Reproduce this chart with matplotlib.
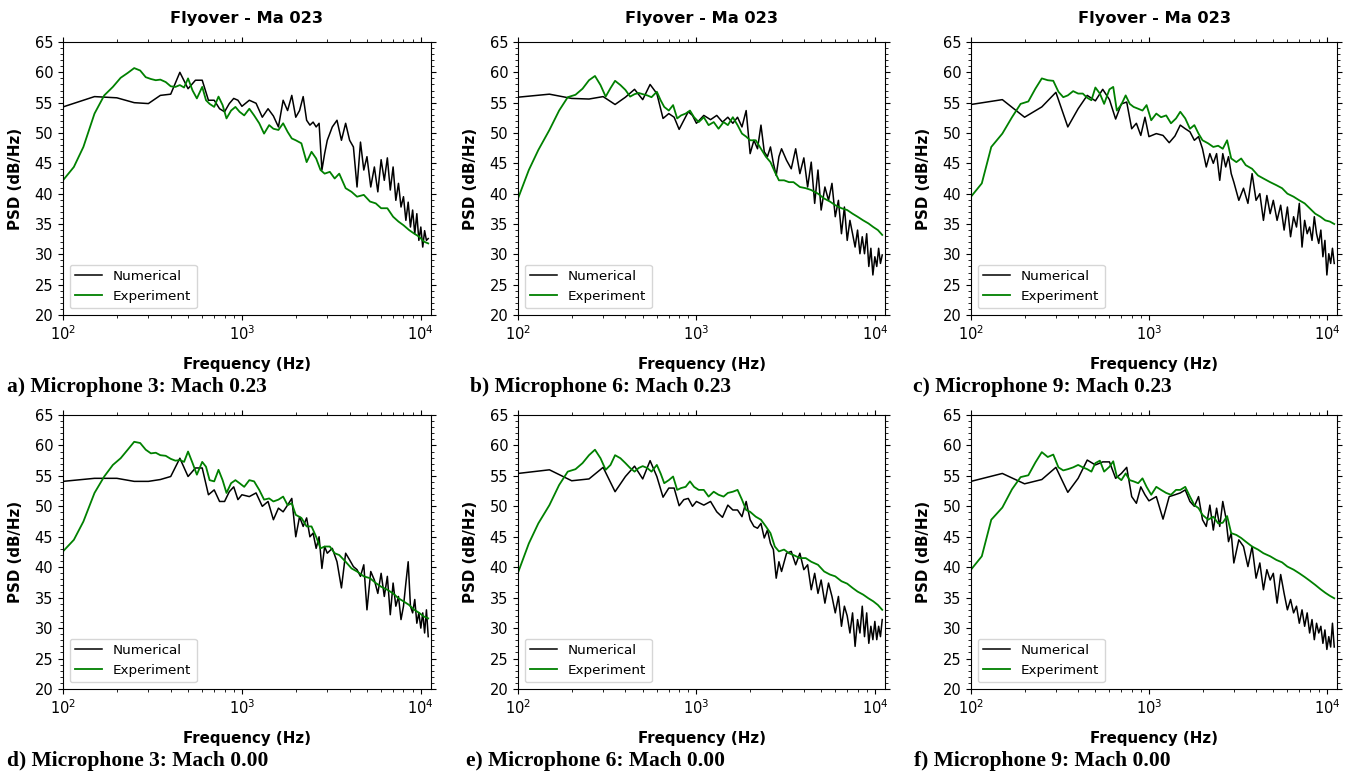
import numpy as np
import matplotlib.pyplot as plt
from matplotlib.ticker import MultipleLocator, LogLocator

plt.rcParams['font.family'] = 'DejaVu Sans'

# frequency grids (Hz)
freq_num = [100, 150, 200, 250, 300, 350, 400, 450, 500, 550, 600, 650, 700, 750, 800, 850, 900, 950, 1000,
            1100, 1200, 1300, 1400, 1500, 1600, 1700, 1800, 1900, 2000,
            2100, 2200, 2300, 2400, 2500, 2600, 2700, 2800, 2900, 3000,
            3200, 3400, 3600, 3800, 4000, 4200, 4400, 4600, 4800, 5000,
            5250, 5500, 5750, 6000, 6250, 6500, 6750, 7000, 7250, 7500,
            7750, 8000, 8250, 8500, 8750, 9000, 9250, 9500, 9750, 10000,
            10250, 10500, 10750, 11000]
freq_exp = [100, 115, 130, 150, 170, 190, 210, 230, 250, 270, 290,
            310, 330, 350, 375, 400, 425, 450, 475, 500,
            530, 560, 600, 630, 660, 700, 740, 780, 820, 870, 920, 970,
            1030, 1100, 1170, 1250, 1330, 1420, 1500, 1600, 1700, 1800, 1900, 2000,
            2150, 2300, 2450, 2600, 2750, 2900,
            3100, 3300, 3500, 3800, 4100, 4400, 4800,
            5200, 5600, 6000, 6500, 7000, 7500, 8000, 8600, 9200, 9800, 10400, 11000]

# numerical PSD (dB/Hz)
num_a = [54.3, 56.0, 55.8, 55.0, 54.85, 56.2, 56.4, 60.0, 57.3, 58.7, 58.7, 55.4, 55.4, 54.0, 53.5, 54.85, 55.7, 55.4, 54.4,
         55.4, 54.9, 52.6, 54.0, 52.8, 51.0, 55.4, 53.7, 56.2, 52.6,
         53.7, 56.0, 52.1, 51.3, 51.8, 51.0, 51.6, 43.9, 46.6, 48.8,
         51.0, 52.1, 48.8, 51.6, 48.8, 47.7, 41.1, 48.5, 43.9, 46.1,
         41.1, 44.4, 40.3, 45.6, 42.2, 45.9, 40.6, 44.4, 38.9, 41.7,
         37.8, 39.5, 35.6, 38.6, 34.5, 37.3, 33.4, 36.7, 32.3, 34.5,
         31.2, 33.9, 32.3, 32.6]
num_b = [55.9, 56.4, 55.7, 55.6, 56.0, 54.7, 55.9, 57.2, 55.5, 58.0, 56.5, 52.4, 53.2, 52.6, 50.6, 52.1, 53.5, 52.9, 51.6,
         52.9, 52.2, 52.9, 51.8, 52.6, 51.6, 52.6, 51.0, 53.7, 46.6,
         48.8, 47.4, 51.3, 46.9, 46.1, 47.7, 45.0, 43.0, 46.1, 47.4,
         45.5, 44.1, 47.4, 43.3, 45.9, 41.1, 45.2, 38.4, 43.9, 37.3,
         41.1, 38.9, 41.7, 36.2, 38.9, 33.4, 37.8, 32.3, 35.6, 33.4,
         31.2, 34.0, 30.1, 32.9, 30.1, 33.4, 28.0, 31.0, 26.6, 29.6,
         28.0, 31.0, 28.5, 29.9]
num_c = [54.7, 55.5, 52.6, 54.3, 56.7, 51.0, 54.0, 56.2, 55.3, 57.2, 55.5, 52.3, 54.8, 55.1, 50.7, 51.6, 49.6, 52.6, 49.4,
         49.9, 49.6, 48.4, 49.5, 51.3, 50.7, 50.2, 48.8, 49.4, 47.4,
         44.4, 46.6, 45.0, 46.6, 42.2, 46.6, 44.4, 46.1, 43.3, 41.9,
         38.9, 40.9, 38.4, 43.3, 38.9, 40.0, 35.6, 39.7, 36.7, 38.9,
         35.6, 38.1, 34.0, 37.8, 32.9, 36.2, 34.5, 38.4, 31.2, 35.6,
         33.4, 34.5, 32.3, 36.2, 33.4, 31.8, 34.0, 29.6, 32.3, 26.6,
         30.1, 28.5, 31.0, 28.5]
num_d = [54.1, 54.6, 54.6, 54.1, 54.1, 54.4, 54.9, 57.9, 54.9, 56.3, 56.3, 51.9, 52.7, 50.8, 50.8, 52.4, 53.2, 51.1, 51.9,
         51.6, 52.2, 50.0, 50.8, 47.8, 49.7, 49.1, 50.2, 51.3, 45.0,
         48.3, 46.7, 48.1, 45.0, 45.6, 43.1, 45.0, 39.8, 43.4, 42.3,
         43.1, 40.9, 36.6, 42.3, 41.2, 40.1, 39.6, 38.5, 40.4, 33.0,
         39.3, 37.9, 35.7, 39.0, 35.2, 38.5, 32.2, 37.4, 33.6, 35.2,
         31.4, 33.6, 37.4, 40.9, 33.6, 32.5, 34.7, 30.8, 32.5, 30.0,
         32.5, 29.2, 33.0, 28.6]
num_e = [55.4, 56.0, 54.2, 54.5, 56.4, 52.4, 54.9, 56.6, 54.5, 57.5, 54.9, 51.5, 53.0, 53.0, 50.1, 51.1, 51.3, 50.0, 50.8,
         50.2, 50.8, 49.1, 48.2, 50.2, 49.4, 49.4, 48.3, 50.8, 47.8,
         46.7, 46.4, 47.2, 44.8, 46.1, 43.9, 42.9, 38.2, 40.9, 39.3,
         42.3, 42.6, 40.4, 42.3, 39.6, 40.4, 36.3, 39.0, 35.7, 37.9,
         34.1, 37.4, 35.2, 32.5, 35.2, 30.3, 33.6, 32.0, 29.2, 32.5,
         27.0, 31.4, 29.2, 33.6, 28.6, 32.5, 27.5, 30.3, 28.1, 31.1,
         28.1, 30.3, 28.6, 31.4]
num_f = [54.1, 55.4, 53.7, 54.4, 56.4, 52.3, 54.6, 57.6, 56.8, 57.3, 57.3, 54.6, 55.4, 56.4, 51.6, 50.5, 53.2, 51.9, 50.9,
         51.6, 47.9, 51.6, 51.9, 52.2, 52.7, 50.8, 50.0, 51.6, 47.8,
         46.7, 50.2, 46.1, 49.7, 46.7, 50.8, 48.3, 44.2, 45.6, 40.7,
         44.5, 43.4, 40.1, 43.4, 38.2, 40.7, 36.3, 39.6, 37.9, 39.0,
         34.1, 38.8, 35.7, 33.0, 34.7, 32.5, 33.6, 30.8, 33.0, 30.3,
         32.5, 29.2, 31.4, 28.1, 30.8, 29.2, 30.3, 27.5, 29.7, 26.5,
         28.6, 26.9, 30.8, 26.9]

# experiment PSD (dB/Hz)
exp_a = [42.2, 44.4, 47.7, 53.2, 56.2, 57.6, 59.1, 59.9, 60.7, 60.3, 59.2,
         58.9, 58.7, 58.8, 58.4, 57.7, 57.6, 57.9, 57.5, 59.0,
         57.0, 55.7, 57.6, 55.4, 54.8, 54.3, 56.0, 54.6, 52.4, 53.7, 54.3, 53.5,
         52.9, 54.0, 52.9, 51.6, 49.9, 51.3, 50.7, 50.5, 51.6, 50.2, 49.1, 48.8,
         48.3, 45.2, 46.9, 45.8, 43.9, 43.3,
         43.6, 42.5, 43.3, 40.9, 40.3, 39.5, 39.8,
         38.7, 38.4, 37.6, 37.6, 36.2, 35.4, 34.8, 34.0, 33.4, 32.9, 32.1, 31.8]
exp_b = [39.2, 43.9, 47.2, 50.5, 53.7, 55.9, 56.3, 57.3, 58.7, 59.4, 57.9,
         56.0, 57.4, 58.6, 57.9, 57.1, 56.0, 56.4, 56.6, 56.4,
         56.2, 55.9, 56.8, 55.4, 54.3, 53.7, 54.6, 52.4, 52.9, 53.2, 53.7, 52.6,
         51.8, 52.6, 51.3, 51.8, 50.7, 51.8, 51.3, 52.6, 51.3, 49.9, 49.4, 48.8,
         48.8, 47.4, 46.1, 45.2, 43.6, 42.2,
         42.2, 41.9, 41.9, 41.1, 40.9, 40.6, 40.0,
         39.2, 38.7, 38.1, 37.6, 37.3, 36.7, 36.2, 35.6, 35.1, 34.5, 34.0, 33.2]
exp_c = [39.5, 41.7, 47.7, 49.9, 52.6, 54.8, 55.2, 57.3, 59.0, 58.7, 58.6,
         56.8, 55.9, 56.2, 56.9, 56.5, 56.5, 55.8, 55.4, 57.5,
         56.5, 54.8, 57.2, 57.6, 53.7, 54.7, 56.2, 54.8, 54.3, 54.0, 53.7, 54.6,
         52.1, 53.2, 52.6, 52.9, 51.6, 52.4, 53.5, 52.4, 50.7, 51.3, 49.9, 48.8,
         48.3, 47.7, 47.9, 47.4, 48.8, 45.8,
         45.2, 45.8, 44.7, 44.1, 43.0, 42.5, 41.9,
         41.4, 40.9, 40.0, 39.5, 38.9, 38.4, 37.6, 36.7, 36.2, 35.6, 35.4, 35.0]
exp_d = [42.6, 44.5, 47.5, 52.2, 54.9, 56.8, 57.9, 59.3, 60.6, 60.4, 59.3,
         58.7, 58.8, 58.4, 58.3, 57.8, 57.5, 57.6, 57.3, 59.0,
         57.1, 55.2, 57.3, 56.5, 54.3, 54.1, 56.0, 54.3, 52.2, 53.8, 54.3, 53.8,
         53.2, 54.3, 54.1, 52.7, 51.1, 51.3, 50.8, 51.1, 51.6, 50.2, 50.5, 48.6,
         48.1, 46.7, 46.7, 45.0, 43.1, 43.4,
         43.4, 42.3, 42.0, 40.9, 39.8, 39.3, 38.5,
         38.2, 37.4, 36.8, 36.3, 35.7, 34.9, 34.4, 33.8, 33.0, 32.5, 31.9, 31.6]
exp_e = [39.1, 43.9, 47.2, 50.2, 53.5, 55.7, 56.1, 57.1, 58.4, 59.3, 57.9,
         56.0, 56.8, 58.4, 57.9, 57.1, 56.3, 55.7, 56.3, 56.6,
         56.3, 55.7, 56.8, 55.4, 53.8, 54.3, 54.9, 52.7, 53.0, 53.2, 54.1, 53.2,
         52.7, 52.7, 51.6, 52.4, 51.9, 51.6, 52.2, 52.4, 52.7, 51.1, 49.4, 49.1,
         48.3, 47.8, 46.7, 45.6, 43.4, 42.6,
         42.9, 42.3, 42.0, 41.5, 41.5, 40.9, 40.4,
         39.3, 38.8, 38.5, 37.7, 37.3, 36.6, 36.0, 35.5, 34.9, 34.4, 33.8, 33.0]
exp_f = [39.6, 41.8, 47.8, 49.8, 52.8, 54.8, 55.1, 57.2, 58.9, 58.1, 58.5,
         56.4, 55.9, 56.1, 56.4, 56.8, 56.4, 56.1, 55.7, 57.1,
         57.5, 55.7, 56.5, 57.4, 54.9, 54.3, 55.4, 54.3, 54.1, 53.8, 54.6, 53.2,
         51.9, 53.2, 52.7, 52.2, 51.9, 52.7, 52.7, 53.2, 51.6, 50.2, 49.7, 48.6,
         47.8, 48.3, 47.2, 47.3, 48.4, 45.6,
         45.3, 44.8, 44.2, 43.4, 42.9, 42.3, 41.8,
         41.2, 40.8, 40.1, 39.6, 39.0, 38.4, 37.8, 37.1, 36.4, 35.8, 35.3, 34.9]

captions = ["a) Microphone 3: Mach 0.23", "b) Microphone 6: Mach 0.23", "c) Microphone 9: Mach 0.23",
            "d) Microphone 3: Mach 0.00", "e) Microphone 6: Mach 0.00", "f) Microphone 9: Mach 0.00"]
nums = [num_a, num_b, num_c, num_d, num_e, num_f]
exps = [exp_a, exp_b, exp_c, exp_d, exp_e, exp_f]

W, H = 1355, 773
fig = plt.figure(figsize=(W / 100, H / 100), dpi=100)

# panel boxes in pixels (left, top, width, height)
lefts = [63, 518, 971]
widths = [368, 367, 366]
tops = [42, 415]
heights = [273, 274]
cap_x = [[7, 470, 913], [7, 466, 914]]
cap_y = [392, 766]

for i in range(6):
    r, c = divmod(i, 3)
    ax = fig.add_axes([lefts[c] / W, 1 - (tops[r] + heights[r]) / H, widths[c] / W, heights[r] / H])
    ax.semilogx(freq_num, nums[i], color='black', lw=1.1, label='Numerical')
    ax.semilogx(freq_exp, exps[i], color='green', lw=1.3, label='Experiment')
    ax.set_xlim(100, 11400)
    ax.set_ylim(20, 65)
    ax.set_yticks(np.arange(20, 66, 5))
    ax.yaxis.set_minor_locator(MultipleLocator(1))
    ax.xaxis.set_minor_locator(LogLocator(base=10, subs=np.arange(2, 10)))
    ax.tick_params(which='both', top=True, right=True, direction='out', labelsize=10.5)
    ax.set_xlabel('Frequency (Hz)', fontweight='bold', fontsize=10.8, labelpad=10)
    ax.set_ylabel('PSD (dB/Hz)', fontweight='bold', fontsize=10.8, labelpad=8)
    if r == 0:
        ax.set_title('Flyover - Ma 023', fontweight='bold', fontsize=11.7, pad=14)
    ax.legend(loc='lower left', fontsize=9.7)
    fig.text(cap_x[r][c] / W, 1 - cap_y[r] / H, captions[i], family='Liberation Serif',
             fontweight='bold', fontsize=15.5, va='baseline', ha='left')

fig.savefig('out.png', dpi=100)
